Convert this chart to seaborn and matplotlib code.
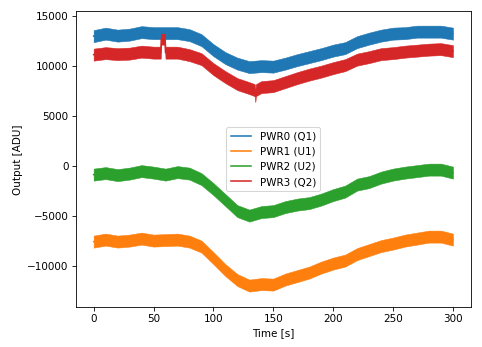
import numpy as np
import pandas as pd
import matplotlib
matplotlib.use("Agg")
import matplotlib.pyplot as plt
import seaborn as sns

# ---- data ----
time_s = [0, 10, 20, 30, 40, 50, 60, 70, 80, 90, 100, 110, 120, 130, 140, 150,
          160, 170, 180, 190, 200, 210, 220, 230, 240, 250, 260, 270, 280, 290, 300]
pwr0_q1 = [13000, 13250, 13050, 13150, 13400, 13300, 13300, 13300, 13100, 12600, 11600,
           10800, 10250, 9900, 10000, 9950, 10250, 10600, 10900, 11200, 11550, 11800,
           12400, 12750, 13050, 13250, 13300, 13450, 13450, 13450, 13250]
pwr1_u1 = [-7550, -7350, -7550, -7450, -7250, -7450, -7400, -7350, -7550, -8050, -9200,
           -10400, -11400, -11950, -11800, -11850, -11350, -11000, -10650, -10150, -9750,
           -9450, -8800, -8400, -8000, -7750, -7450, -7250, -7050, -7050, -7350]
pwr2_u2 = [-850, -700, -900, -750, -500, -650, -850, -600, -750, -1300, -2300, -3400,
           -4500, -4950, -4600, -4500, -4100, -3850, -3700, -3350, -2900, -2550, -1850,
           -1600, -1150, -850, -650, -500, -350, -350, -650]
pwr3_q2 = [11150, 11300, 11200, 11250, 11450, 11350, 11350, 11350, 11100, 10700, 9700,
           8900, 8200, 7800, 7900, 8000, 8400, 8800, 9150, 9450, 9800, 10100, 10650,
           10900, 11200, 11300, 11450, 11550, 11650, 11700, 11500]
# short glitches in PWR3
pwr3_spike_time = [56.0, 56.5, 59.5, 134.5, 135.0, 135.5]
pwr3_spike_value = [11350, 12750, 12750, 7600, 7000, 7600]
# approximate half-width of the noise band (ADU)
noise_halfwidth = 600

labels = ["PWR0 (Q1)", "PWR1 (U1)", "PWR2 (U2)", "PWR3 (Q2)"]
colors = ["#1f77b4", "#ff7f0e", "#2ca02c", "#d62728"]


def band_frame(t, v, hw):
    t = np.asarray(t, float)
    v = np.asarray(v, float)
    return pd.DataFrame({"t": np.concatenate([t, t]),
                         "v": np.concatenate([v - hw, v + hw])})


series = [
    (time_s, pwr0_q1),
    (time_s, pwr1_u1),
    (time_s, pwr2_u2),
    (list(time_s) + pwr3_spike_time, list(pwr3_q2) + pwr3_spike_value),
]

dpi = 75
fig = plt.figure(figsize=(482 / dpi, 347 / dpi), dpi=dpi)
ax = fig.add_axes([0.157, 0.115, 0.977 - 0.157, 0.967 - 0.115])
plt.rcParams["font.size"] = 10

for (t, v), lab, col in zip(series, labels, colors):
    df = band_frame(t, v, noise_halfwidth)
    sns.lineplot(data=df, x="t", y="v", estimator="mean",
                 errorbar=lambda x: (x.min(), x.max()),
                 color=col, label=lab, linewidth=1.5,
                 err_kws={"alpha": 1.0, "linewidth": 0.5, "edgecolor": col},
                 ax=ax)

ax.set_xlim(-15, 315)
ax.set_ylim(-14100, 15470)
ax.set_xticks([0, 50, 100, 150, 200, 250, 300])
ax.set_yticks([-10000, -5000, 0, 5000, 10000, 15000])
ax.set_xlabel("Time [s]", fontsize=10)
ax.set_ylabel("Output [ADU]", fontsize=10)
ax.tick_params(labelsize=10)
ax.legend(loc="center", fontsize=10)

fig.savefig("out.png", dpi=dpi, facecolor="white")
